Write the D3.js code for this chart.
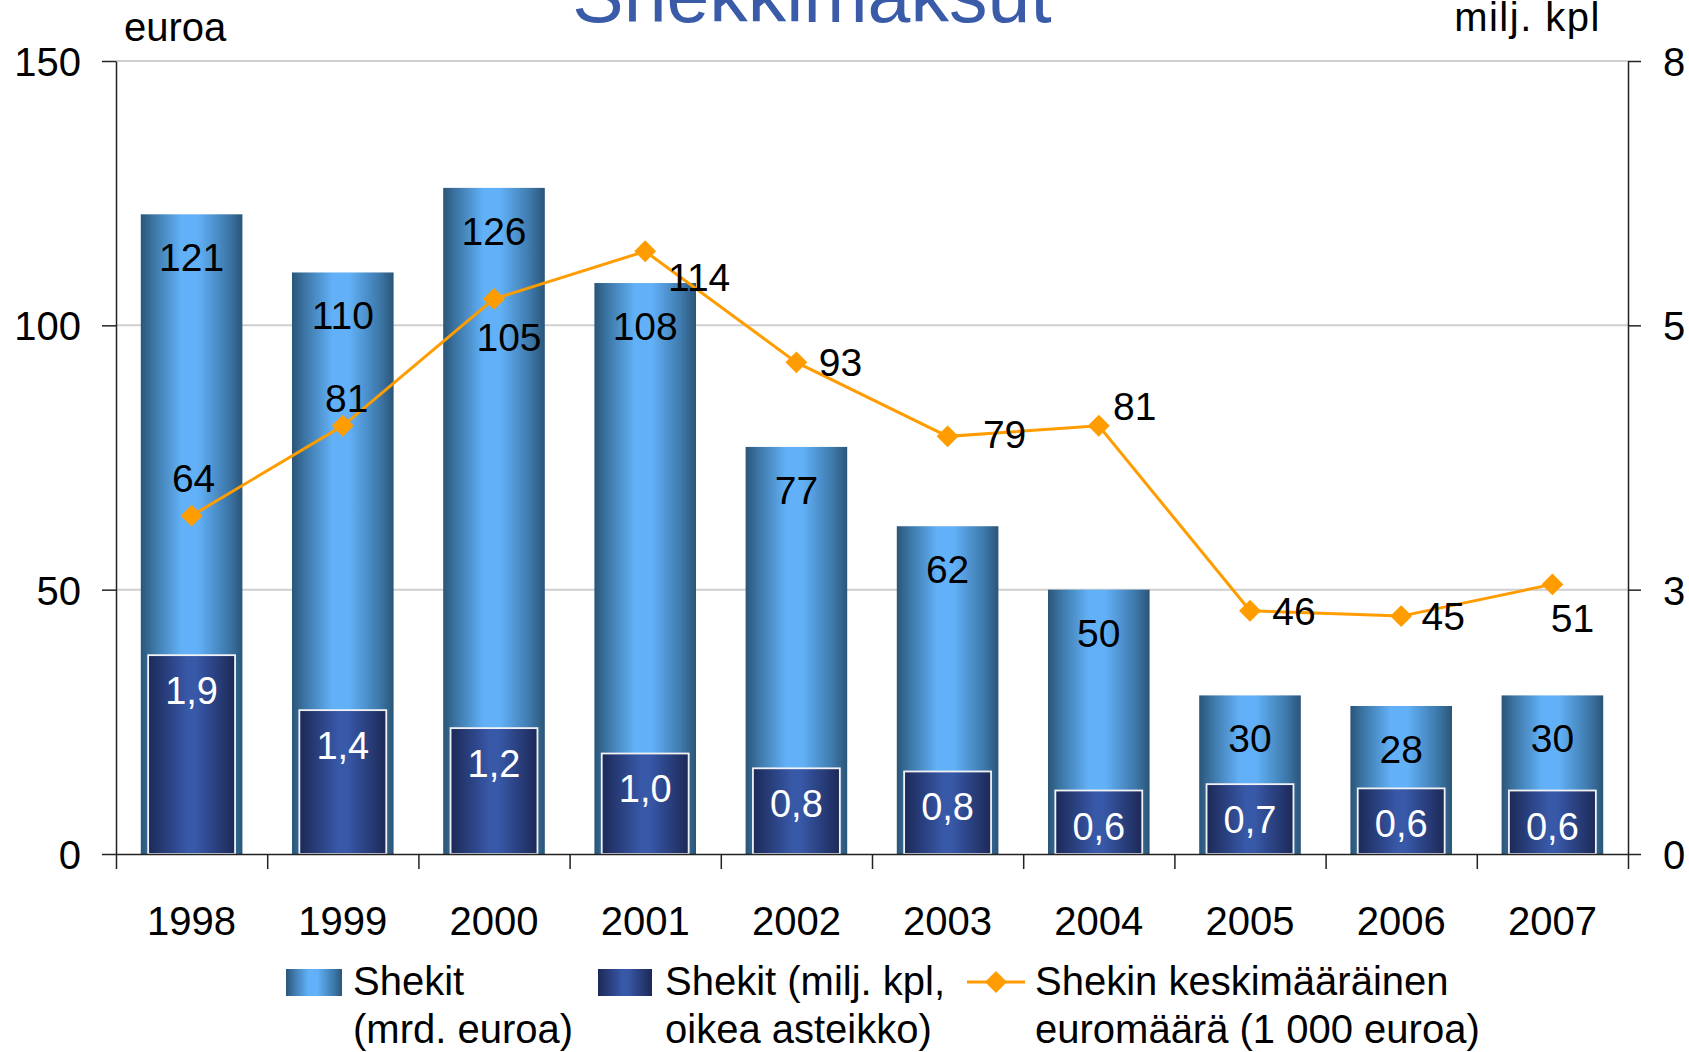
<!DOCTYPE html>
<html lang="fi">
<head>
    <meta charset="UTF-8">
    <title>Shekkimaksut</title>
    <style>
        body { margin: 0; background: #fff; }
        svg { display: block; font-family: "Liberation Sans", Arial, sans-serif; }
        .axis path, .axis line { stroke: #222; stroke-width: 1.5; }
        .axis text { font-size: 40px; fill: #000; }
    </style>
</head>
<body>
    <div id="chart"></div>
    <script src="https://d3js.org/d3.v7.min.js"></script>
    <script>
        // Data
        const years = ["1998", "1999", "2000", "2001", "2002", "2003", "2004", "2005", "2006", "2007"];
        const chequeValue = [121, 110, 126, 108, 77, 62, 50, 30, 28, 30];            // mrd. euroa (left)
        const chequeCount = [1.89, 1.37, 1.2, 0.96, 0.82, 0.79, 0.61, 0.67, 0.63, 0.61]; // milj. kpl (right)
        const avgAmount = [64, 81, 105, 114, 93, 79, 81, 46, 45, 51];               // 1 000 euroa (left)
        const leftTicks = [0, 50, 100, 150];
        const rightTicks = [0, 2.5, 5, 7.5];

        // label placement of the line values (dx, dy from marker)
        const lineLabelOffsets = [[2, -38], [4, -28], [15, 38], [54, 26], [44, 0],
                                  [57, -2], [36, -20], [44, 0], [42, 0], [20, 34]];

        const width = 1689, height = 1052;
        const plot = { left: 116, right: 1628, top: 61, bottom: 854 };
        const fiFormat = d3.formatLocale({ decimal: ",", thousands: "\u00a0", grouping: [3], currency: ["", " €"] }).format(".1f");

        const svg = d3.select("#chart").append("svg")
            .attr("width", width)
            .attr("height", height);

        // gradients for the bars
        const defs = svg.append("defs");
        const light = defs.append("linearGradient").attr("id", "gLight");
        [["0%", "#2b5577"], ["12%", "#3b74a3"], ["40%", "#62b1f8"], ["56%", "#62b1f8"], ["86%", "#3d78aa"], ["100%", "#2b5577"]]
            .forEach(s => light.append("stop").attr("offset", s[0]).attr("stop-color", s[1]));
        const dark = defs.append("linearGradient").attr("id", "gDark");
        [["0%", "#1c2957"], ["45%", "#3858a8"], ["55%", "#3858a8"], ["100%", "#1c2957"]]
            .forEach(s => dark.append("stop").attr("offset", s[0]).attr("stop-color", s[1]));

        // scales
        const x = d3.scaleBand().domain(years).range([plot.left, plot.right]);
        const xEdge = d3.scaleLinear().domain([0, years.length]).range([plot.left, plot.right]);
        const yLeft = d3.scaleLinear().domain([0, 150]).range([plot.bottom, plot.top]);
        const yRight = d3.scaleLinear().domain([0, 7.5]).range([plot.bottom, plot.top]);
        const bw = x.bandwidth();
        const cx = d => x(d) + bw / 2;

        // title (cut off at the top like the original)
        svg.append("text")
            .attr("x", 812).attr("y", 22)
            .attr("text-anchor", "middle")
            .attr("font-size", 77)
            .attr("fill", "#3a5ba8")
            .text("Shekkimaksut");

        svg.append("text").attr("x", 124).attr("y", 41).attr("font-size", 40).text("euroa");
        svg.append("text").attr("x", 1601).attr("y", 31).attr("font-size", 40)
            .attr("letter-spacing", 1.5)
            .attr("text-anchor", "end").text("milj. kpl");

        // gridlines
        svg.append("g").selectAll("line")
            .data(leftTicks.filter(d => d > 0))
            .join("line")
            .attr("x1", plot.left).attr("x2", plot.right)
            .attr("y1", d => yLeft(d)).attr("y2", d => yLeft(d))
            .attr("stroke", "#cfcfcf").attr("stroke-width", 2);

        // value bars (left scale)
        const lw = bw * 0.672;
        svg.append("g").selectAll("rect")
            .data(years)
            .join("rect")
            .attr("x", d => cx(d) - lw / 2)
            .attr("width", lw)
            .attr("y", (d, i) => yLeft(chequeValue[i]))
            .attr("height", (d, i) => plot.bottom - yLeft(chequeValue[i]))
            .attr("fill", "url(#gLight)");

        // count bars (right scale)
        const dw = bw * 0.588;
        svg.append("g").selectAll("rect")
            .data(years)
            .join("rect")
            .attr("x", d => cx(d) - dw / 2 + 1)
            .attr("width", dw - 2)
            .attr("y", (d, i) => yRight(chequeCount[i]) + 1)
            .attr("height", (d, i) => plot.bottom - yRight(chequeCount[i]) - 1)
            .attr("fill", "url(#gDark)")
            .attr("stroke", "#f2f2f5")
            .attr("stroke-width", 1.8);

        // bar labels
        svg.append("g").selectAll("text")
            .data(years)
            .join("text")
            .attr("x", cx)
            .attr("y", (d, i) => yLeft(chequeValue[i]) + 57)
            .attr("text-anchor", "middle")
            .attr("font-size", 39)
            .text((d, i) => chequeValue[i]);

        svg.append("g").selectAll("text")
            .data(years)
            .join("text")
            .attr("x", cx)
            .attr("y", (d, i) => yRight(chequeCount[i]) + 50)
            .attr("text-anchor", "middle")
            .attr("font-size", 38)
            .attr("fill", "#fff")
            .text((d, i) => fiFormat(chequeCount[i]));

        // axes
        svg.append("g")
            .attr("class", "axis")
            .attr("transform", `translate(${plot.left},0)`)
            .call(d3.axisLeft(yLeft).tickValues(leftTicks).tickSize(14).tickSizeOuter(0).tickPadding(21))
            .selectAll("text").attr("dy", "0.36em");

        svg.append("g")
            .attr("class", "axis")
            .attr("transform", `translate(${plot.right},0)`)
            .call(d3.axisRight(yRight).tickValues(rightTicks).tickFormat(d => Math.round(d)).tickSize(13).tickSizeOuter(0).tickPadding(22))
            .selectAll("text").attr("dy", "0.36em");

        svg.append("g")
            .attr("class", "axis")
            .attr("transform", `translate(0,${plot.bottom})`)
            .call(d3.axisBottom(xEdge).tickValues(d3.range(0, years.length + 1)).tickFormat("").tickSize(15).tickSizeOuter(0));

        svg.append("g").selectAll("text")
            .data(years)
            .join("text")
            .attr("x", cx)
            .attr("y", 935)
            .attr("text-anchor", "middle")
            .attr("font-size", 40)
            .text(d => d);

        // average amount line
        const orange = "#ff9c00";
        const line = d3.line()
            .x((d, i) => cx(years[i]))
            .y(d => yLeft(d));

        svg.append("path")
            .datum(avgAmount)
            .attr("d", line)
            .attr("fill", "none")
            .attr("stroke", orange)
            .attr("stroke-width", 3);

        const diamond = d3.symbol().type(d3.symbolSquare).size(240);
        svg.append("g").selectAll("path")
            .data(avgAmount)
            .join("path")
            .attr("d", diamond)
            .attr("transform", (d, i) => `translate(${cx(years[i])},${yLeft(d)}) rotate(45)`)
            .attr("fill", orange);

        svg.append("g").selectAll("text")
            .data(avgAmount)
            .join("text")
            .attr("x", (d, i) => cx(years[i]) + lineLabelOffsets[i][0])
            .attr("y", (d, i) => yLeft(d) + lineLabelOffsets[i][1])
            .attr("dy", "0.36em")
            .attr("text-anchor", "middle")
            .attr("font-size", 39)
            .text(d => d);

        // legend
        const legend = svg.append("g").attr("font-size", 40);
        legend.append("rect").attr("x", 286).attr("y", 969).attr("width", 56).attr("height", 27).attr("fill", "url(#gLight)");
        legend.append("text").attr("x", 353).attr("y", 995)
            .selectAll("tspan").data(["Shekit", "(mrd. euroa)"]).join("tspan")
            .attr("x", 353).attr("dy", (d, i) => i ? 48 : 0).text(d => d);

        legend.append("rect").attr("x", 598).attr("y", 969).attr("width", 54).attr("height", 27).attr("fill", "url(#gDark)");
        legend.append("text").attr("x", 665).attr("y", 995)
            .selectAll("tspan").data(["Shekit (milj. kpl,", "oikea asteikko)"]).join("tspan")
            .attr("x", 665).attr("dy", (d, i) => i ? 48 : 0).text(d => d);

        legend.append("line").attr("x1", 967).attr("x2", 1025).attr("y1", 982).attr("y2", 982)
            .attr("stroke", orange).attr("stroke-width", 3);
        legend.append("path").attr("d", diamond)
            .attr("transform", "translate(996,982) rotate(45)").attr("fill", orange);
        legend.append("text").attr("x", 1035).attr("y", 995)
            .selectAll("tspan").data(["Shekin keskimääräinen", "euromäärä (1 000 euroa)"]).join("tspan")
            .attr("x", 1035).attr("dy", (d, i) => i ? 48 : 0).text(d => d);
    </script>
</body>
</html>
